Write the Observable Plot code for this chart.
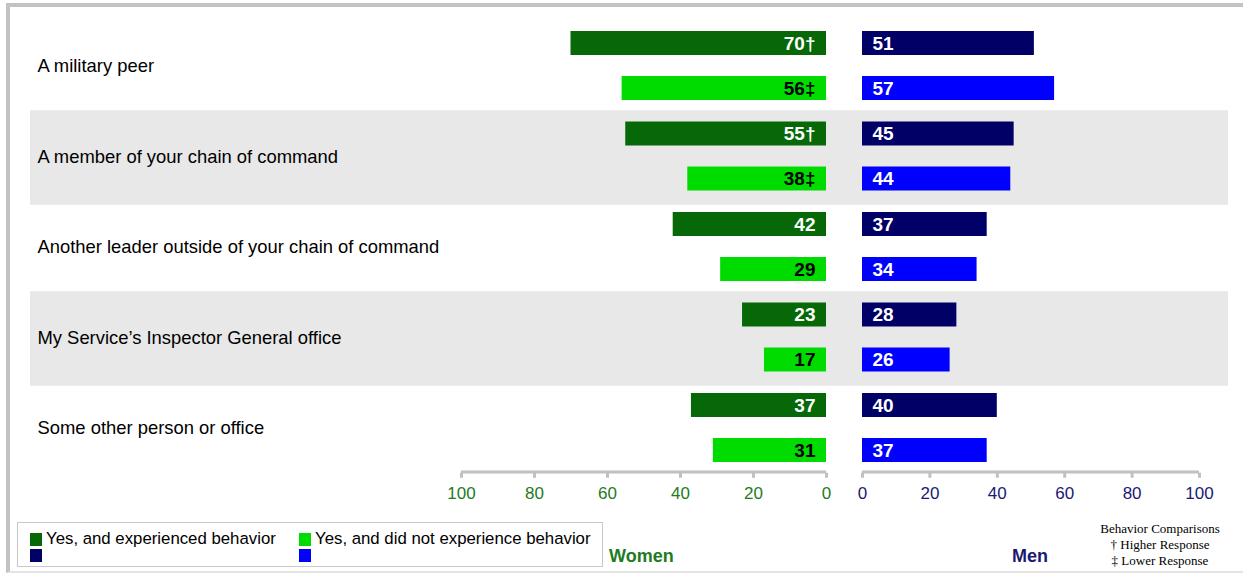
<!DOCTYPE html>
<html>
<head>
<meta charset="utf-8">
<script src="https://cdn.jsdelivr.net/npm/d3@7"></script>
<script src="https://cdn.jsdelivr.net/npm/@observablehq/plot@0.6"></script>
<style>
  body { margin: 0; background: #fff; font-family: "Liberation Sans", Arial, sans-serif; }
  #wrap { position: relative; width: 1243px; height: 575px; overflow: hidden; background: #fff; }
  #frame { position: absolute; left: 6px; top: 3px; width: 1260px; height: 570px; box-sizing: border-box;
           border-top: 4px solid #c3c3c3; border-left: 4px solid #c3c3c3; border-bottom: 2px solid #e4e4e4; }
  .layer { position: absolute; left: 0; top: 0; }
  #legend { position: absolute; left: 17px; top: 522px; width: 586px; height: 45px; box-sizing: border-box;
            border: 1px solid #c8c8c8; background: #fff; font-size: 16.8px; color: #000; }
  .sw { position: absolute; width: 12px; height: 13px; }
  .lt { position: absolute; white-space: nowrap; line-height: 18px; }
  .ttl { position: absolute; font-weight: bold; font-size: 18px; white-space: nowrap; line-height: 20px; }
  #cmp { position: absolute; left: 1090px; top: 521px; width: 140px; text-align: center;
         font-family: "Liberation Serif", "Times New Roman", serif; font-size: 13px; line-height: 16px; color: #000; }
</style>
</head>
<body>
<div id="wrap">
  <div id="frame"></div>
</div>
<script>
// ---- data ----
const categories = [
  "A military peer",
  "A member of your chain of command",
  "Another leader outside of your chain of command",
  "My Service\u2019s Inspector General office",
  "Some other person or office"
];
const types = ["Yes, and experienced behavior", "Yes, and did not experience behavior"];
const womenExperienced = [70, 55, 42, 23, 37];
const womenExperiencedMark = ["\u2020", "\u2020", "", "", ""];
const womenNotExperienced = [56, 38, 29, 17, 31];
const womenNotExperiencedMark = ["\u2021", "\u2021", "", "", ""];
const menExperienced = [51, 45, 37, 28, 40];
const menNotExperienced = [57, 44, 34, 26, 37];
const axisTicks = [0, 20, 40, 60, 80, 100];
const comparisonNotes = ["Behavior Comparisons", "\u2020 Higher Response", "\u2021 Lower Response"];

// ---- colours ----
const C = {
  womenExp: "#066806", womenNot: "#00dc00",
  menExp: "#000066", menNot: "#0000ff",
  womenText: "#1e7b1e", menText: "#1a1a72",
  band: "#e8e8e8", axis: "#c0c0c0"
};

const women = categories.flatMap((c, i) => [
  {cat: c, type: types[0], value: womenExperienced[i], mark: womenExperiencedMark[i]},
  {cat: c, type: types[1], value: womenNotExperienced[i], mark: womenNotExperiencedMark[i]}
]);
const men = categories.flatMap((c, i) => [
  {cat: c, type: types[0], value: menExperienced[i], mark: ""},
  {cat: c, type: types[1], value: menNotExperienced[i], mark: ""}
]);
const shaded = categories.filter((c, i) => i % 2 === 1);
const lastCat = [categories[categories.length - 1]];

const common = {
  width: 1243, height: 515,
  marginTop: 20.25, marginBottom: 42.25, marginLeft: 30, marginRight: 15,
  fy: {domain: categories, padding: 0, round: false, axis: null},
  y: {domain: types, paddingInner: 0.467, paddingOuter: 0.239, round: false, axis: null},
  style: {background: "transparent", fontFamily: "'Liberation Sans', Arial, sans-serif", overflow: "visible"}
};

function side(data, opts) {
  const exp = data.filter(d => d.type === types[0]);
  const not = data.filter(d => d.type === types[1]);
  const marks = [];
  if (opts.bands) {
    marks.push(Plot.rect(shaded, {fy: d => d, fill: C.band, insetTop: -0.5, insetBottom: -3.5}));
    marks.push(Plot.text(categories, {fy: d => d, text: d => d, frameAnchor: "left", textAnchor: "start",
      dx: 7, dy: 0.5, fontSize: 18.4, fill: "#000"}));
  }
  marks.push(
    Plot.barX(exp, {fy: "cat", y: "type", x: "value", fill: opts.expColor}),
    Plot.barX(not, {fy: "cat", y: "type", x: "value", fill: opts.notColor}),
    Plot.text(exp, {fy: "cat", y: "type", x: () => 0, text: d => d.value + d.mark, textAnchor: opts.anchor,
      dx: opts.dx, fill: "#fff", fontWeight: "bold", fontSize: 19}),
    Plot.text(not, {fy: "cat", y: "type", x: () => 0, text: d => d.value + d.mark, textAnchor: opts.anchor,
      dx: opts.dx, fill: opts.notText, fontWeight: "bold", fontSize: 19}),
    Plot.ruleY(lastCat, {fy: d => d, y: () => types[1], x1: () => 0, x2: () => 100, dy: 21.5,
      stroke: C.axis, strokeWidth: 3}),
    Plot.axisX({ticks: axisTicks, tickSize: 5, text: null, label: null, stroke: C.axis, strokeWidth: 3, strokeOpacity: 1}),
    Plot.axisX({ticks: axisTicks, tickSize: 0, tickPadding: 14, label: null, fill: opts.tickColor, fontSize: 17,
      tickFormat: d => String(d)})
  );
  return Plot.plot({...common, x: {domain: opts.domain, range: opts.range, label: null}, marks});
}

const womenPlot = side(women, {
  bands: true, domain: [100, 0], range: [461, 826], expColor: C.womenExp, notColor: C.womenNot,
  anchor: "end", dx: -11, notText: "#000", tickColor: C.womenText
});
const menPlot = side(men, {
  bands: false, domain: [0, 100], range: [862, 1199], expColor: C.menExp, notColor: C.menNot,
  anchor: "start", dx: 10, notText: "#fff", tickColor: C.menText
});

const wrap = document.getElementById("wrap");
womenPlot.classList.add("layer");
menPlot.classList.add("layer");
wrap.appendChild(womenPlot);
wrap.appendChild(menPlot);

// ---- legend ----
const legend = document.createElement("div");
legend.id = "legend";
const legendItems = [
  {label: types[0], colors: [C.womenExp, C.menExp], left: 12},
  {label: types[1], colors: [C.womenNot, C.menNot], left: 281}
];
for (const it of legendItems) {
  it.colors.forEach((col, k) => {
    const s = document.createElement("div");
    s.className = "sw";
    s.style.background = col;
    s.style.left = it.left + "px";
    s.style.top = (10 + k * 16) + "px";
    legend.appendChild(s);
  });
  const t = document.createElement("div");
  t.className = "lt";
  t.textContent = it.label;
  t.style.left = (it.left + 16) + "px";
  t.style.top = "7px";
  legend.appendChild(t);
}
wrap.appendChild(legend);

const wt = document.createElement("div");
wt.className = "ttl"; wt.textContent = "Women"; wt.style.color = C.womenText;
wt.style.left = "609px"; wt.style.top = "546px";
wrap.appendChild(wt);
const mt = document.createElement("div");
mt.className = "ttl"; mt.textContent = "Men"; mt.style.color = C.menText;
mt.style.left = "1012px"; mt.style.top = "546px";
wrap.appendChild(mt);

const cmp = document.createElement("div");
cmp.id = "cmp";
cmp.innerHTML = comparisonNotes.map(s => `<div>${s}</div>`).join("");
wrap.appendChild(cmp);
</script>
</body>
</html>
